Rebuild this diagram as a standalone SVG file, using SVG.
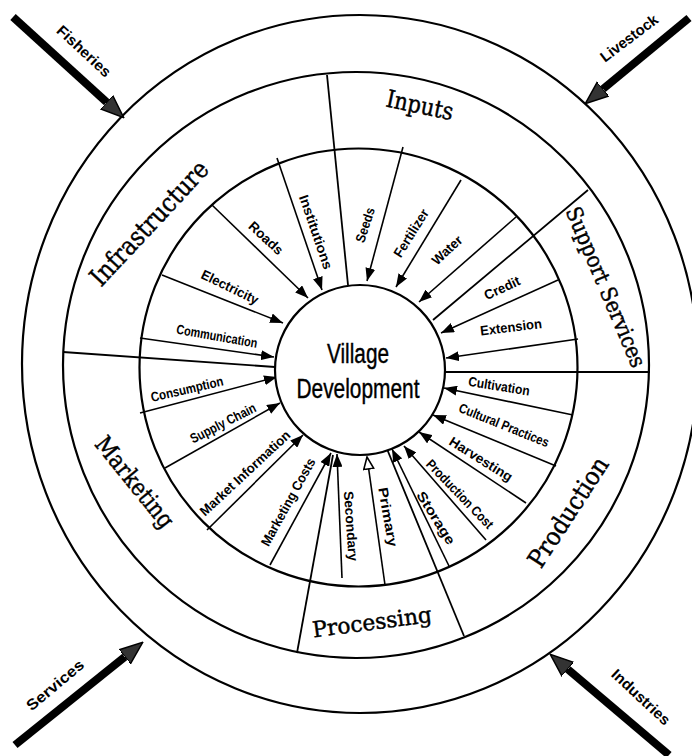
<svg xmlns="http://www.w3.org/2000/svg" width="692" height="756" viewBox="0 0 692 756">
<defs>
<style>
.ring{fill:none;stroke:#000;stroke-width:2.2}
.core{fill:#fff;stroke:#000;stroke-width:2.2}
.div{stroke:#000;stroke-width:1.8;fill:none}
.spoke{stroke:#000;stroke-width:1.6;fill:none;marker-end:url(#ah)}
.spokeo{stroke:#000;stroke-width:1.6;fill:none;marker-end:url(#aho)}
.big{stroke:#000;stroke-width:8;fill:none;marker-end:url(#bh)}
.sec{font-family:"DejaVu Serif","Liberation Serif",serif;fill:#000;stroke:#000;stroke-width:0.45;text-anchor:middle}
.lab{font-family:"Liberation Sans",Arial,sans-serif;font-size:13.5px;fill:#000;text-anchor:middle;font-weight:bold}
.out{font-family:"Liberation Sans",Arial,sans-serif;font-size:15px;fill:#000;text-anchor:middle;font-weight:bold}
.ctr{font-family:"Liberation Sans",Arial,sans-serif;font-size:27px;fill:#000;stroke:#000;stroke-width:0.4;text-anchor:middle}
</style>
<marker id="ah" markerUnits="userSpaceOnUse" markerWidth="13" markerHeight="10" viewBox="0 0 13 10" refX="13" refY="5" orient="auto">
<path d="M0,0 L13,5 L0,10 z" fill="#000"/>
</marker>
<marker id="aho" markerUnits="userSpaceOnUse" markerWidth="14" markerHeight="12" viewBox="0 0 14 12" refX="13" refY="6" orient="auto">
<path d="M1,1 L13,6 L1,11 z" fill="#fff" stroke="#000" stroke-width="1.6"/>
</marker>
<marker id="bh" markerUnits="userSpaceOnUse" markerWidth="24" markerHeight="20" viewBox="0 0 24 20" refX="0" refY="10" orient="auto">
<path d="M0,1 L23,10 L0,19 z" fill="#333" stroke="#000" stroke-width="1.5"/>
</marker>
</defs>
<rect width="692" height="756" fill="#fff"/>

<g id="rings">
<ellipse class="ring" cx="360" cy="364" rx="338" ry="349"/>
<circle class="ring" cx="356" cy="365" r="293"/>
<circle class="ring" cx="358.5" cy="367.5" r="219"/>
</g>

<g id="connectors">
<!-- sector dividers -->
<line class="div" x1="327" y1="75" x2="348" y2="285"/>
<line class="div" x1="588" y1="190" x2="433" y2="320"/>
<line class="div" x1="443" y1="372" x2="650" y2="372"/>
<line class="div" x1="464" y1="636" x2="387" y2="449"/>
<line class="div" x1="297" y1="653" x2="333" y2="455"/>
<line class="div" x1="63" y1="352" x2="275" y2="367"/>
<!-- spokes -->
<line class="spoke" x1="140" y1="338" x2="274" y2="357"/>
<line class="spoke" x1="162" y1="275" x2="283" y2="323"/>
<line class="spoke" x1="212" y1="205" x2="308" y2="298"/>
<line class="spoke" x1="277" y1="158" x2="322" y2="290"/>
<line class="spoke" x1="403" y1="147" x2="367" y2="281"/>
<line class="spoke" x1="461" y1="180" x2="396" y2="287"/>
<line class="spoke" x1="516" y1="217" x2="419" y2="302"/>
<line class="spoke" x1="558" y1="280" x2="441" y2="333"/>
<line class="spoke" x1="578" y1="339" x2="446" y2="358"/>
<line class="spoke" x1="573" y1="415" x2="444" y2="388"/>
<line class="spoke" x1="556" y1="466" x2="433" y2="415"/>
<line class="spoke" x1="526" y1="503" x2="419" y2="432"/>
<line class="spoke" x1="486" y1="540" x2="404" y2="446"/>
<line class="spoke" x1="449" y1="566" x2="392" y2="449"/>
<line class="spokeo" x1="385" y1="585" x2="367" y2="457"/>
<line class="spoke" x1="342" y1="578" x2="337" y2="454"/>
<line class="spoke" x1="270" y1="565" x2="331" y2="453"/>
<line class="spoke" x1="207" y1="530" x2="303" y2="435"/>
<line class="spoke" x1="165" y1="468" x2="280" y2="403"/>
<line class="spoke" x1="140" y1="413" x2="277" y2="377"/>
<!-- outer arrows -->
<line class="big" x1="13" y1="17" x2="106.7" y2="102.2"/>
<line class="big" x1="689" y1="18" x2="603" y2="89"/>
<line class="big" x1="15" y1="745" x2="124.8" y2="656.8"/>
<line class="big" x1="669" y1="755" x2="567.8" y2="669.2"/>
</g>

<g id="village-development">
<circle class="core" cx="360" cy="370" r="85"/>
<text class="ctr" x="358" y="363" textLength="62" lengthAdjust="spacingAndGlyphs">Village</text>
<text class="ctr" x="358" y="398" textLength="123" lengthAdjust="spacingAndGlyphs">Development</text>
</g>

<g id="infrastructure">
<text class="sec" font-size="26" transform="translate(149,223) rotate(-47)" dy="0.35em" textLength="160" lengthAdjust="spacingAndGlyphs">Infrastructure</text>
<text class="lab" transform="translate(217,336) rotate(10)" dy="0.35em" textLength="82" lengthAdjust="spacingAndGlyphs">Communication</text>
<text class="lab" transform="translate(230,287) rotate(26)" dy="0.35em" textLength="62" lengthAdjust="spacingAndGlyphs">Electricity</text>
<text class="lab" transform="translate(266,238) rotate(43)" dy="0.35em" textLength="42" lengthAdjust="spacingAndGlyphs">Roads</text>
<text class="lab" transform="translate(316,232) rotate(71)" dy="0.35em" textLength="78" lengthAdjust="spacingAndGlyphs">Institutions</text>
</g>

<g id="inputs">
<text class="sec" font-size="24" transform="translate(420,105) rotate(12)" dy="0.35em" textLength="68" lengthAdjust="spacingAndGlyphs">Inputs</text>
<text class="lab" transform="translate(365,225) rotate(-72)" dy="0.35em" textLength="36" lengthAdjust="spacingAndGlyphs">Seeds</text>
<text class="lab" transform="translate(411,233) rotate(-58)" dy="0.35em" textLength="54" lengthAdjust="spacingAndGlyphs">Fertilizer</text>
<text class="lab" transform="translate(447,250) rotate(-43)" dy="0.35em" textLength="36" lengthAdjust="spacingAndGlyphs">Water</text>
</g>

<g id="support-services">
<text class="sec" font-size="22" transform="translate(606,287) rotate(67)" dy="0.35em" textLength="172" lengthAdjust="spacingAndGlyphs">Support Services</text>
<text class="lab" transform="translate(502,288) rotate(-25)" dy="0.35em" textLength="38" lengthAdjust="spacingAndGlyphs">Credit</text>
<text class="lab" transform="translate(511,327) rotate(-7)" dy="0.35em" textLength="62" lengthAdjust="spacingAndGlyphs">Extension</text>
</g>

<g id="production">
<text class="sec" font-size="25" transform="translate(568,512) rotate(-57)" dy="0.35em" textLength="126" lengthAdjust="spacingAndGlyphs">Production</text>
<text class="lab" transform="translate(499,386) rotate(9)" dy="0.35em" textLength="62" lengthAdjust="spacingAndGlyphs">Cultivation</text>
<text class="lab" transform="translate(504,425) rotate(22)" dy="0.35em" textLength="96" lengthAdjust="spacingAndGlyphs">Cultural Practices</text>
<text class="lab" transform="translate(481,459) rotate(32)" dy="0.35em" textLength="72" lengthAdjust="spacingAndGlyphs">Harvesting</text>
<text class="lab" transform="translate(460,494) rotate(46)" dy="0.35em" textLength="90" lengthAdjust="spacingAndGlyphs">Production Cost</text>
<text class="lab" transform="translate(436,518) rotate(58)" dy="0.35em" textLength="60" lengthAdjust="spacingAndGlyphs">Storage</text>
</g>

<g id="processing">
<text class="sec" font-size="22" transform="translate(372,622) rotate(-7.5)" dy="0.35em" textLength="120" lengthAdjust="spacingAndGlyphs">Processing</text>
<text class="lab" transform="translate(388,517) rotate(80)" dy="0.35em" textLength="60" lengthAdjust="spacingAndGlyphs">Primary</text>
<text class="lab" transform="translate(351,526) rotate(86)" dy="0.35em" textLength="70" lengthAdjust="spacingAndGlyphs">Secondary</text>
</g>

<g id="marketing">
<text class="sec" font-size="24" transform="translate(135,482) rotate(51)" dy="0.35em" textLength="110" lengthAdjust="spacingAndGlyphs">Marketing</text>
<text class="lab" transform="translate(288,502) rotate(-61)" dy="0.35em" textLength="98" lengthAdjust="spacingAndGlyphs">Marketing Costs</text>
<text class="lab" transform="translate(245,473) rotate(-43)" dy="0.35em" textLength="118" lengthAdjust="spacingAndGlyphs">Market Information</text>
<text class="lab" transform="translate(223,423) rotate(-27)" dy="0.35em" textLength="72" lengthAdjust="spacingAndGlyphs">Supply Chain</text>
<text class="lab" transform="translate(187,389) rotate(-13)" dy="0.35em" textLength="74" lengthAdjust="spacingAndGlyphs">Consumption</text>
</g>

<g id="fisheries">
<text class="out" transform="translate(84,51) rotate(43)" dy="0.35em" textLength="68" lengthAdjust="spacingAndGlyphs">Fisheries</text>
</g>
<g id="livestock">
<text class="out" transform="translate(629,38) rotate(-37)" dy="0.35em" textLength="68" lengthAdjust="spacingAndGlyphs">Livestock</text>
</g>
<g id="services">
<text class="out" transform="translate(55,685) rotate(-40)" dy="0.35em" textLength="70" lengthAdjust="spacingAndGlyphs">Services</text>
</g>
<g id="industries">
<text class="out" transform="translate(641,697) rotate(43)" dy="0.35em" textLength="74" lengthAdjust="spacingAndGlyphs">Industries</text>
</g>
</svg>
